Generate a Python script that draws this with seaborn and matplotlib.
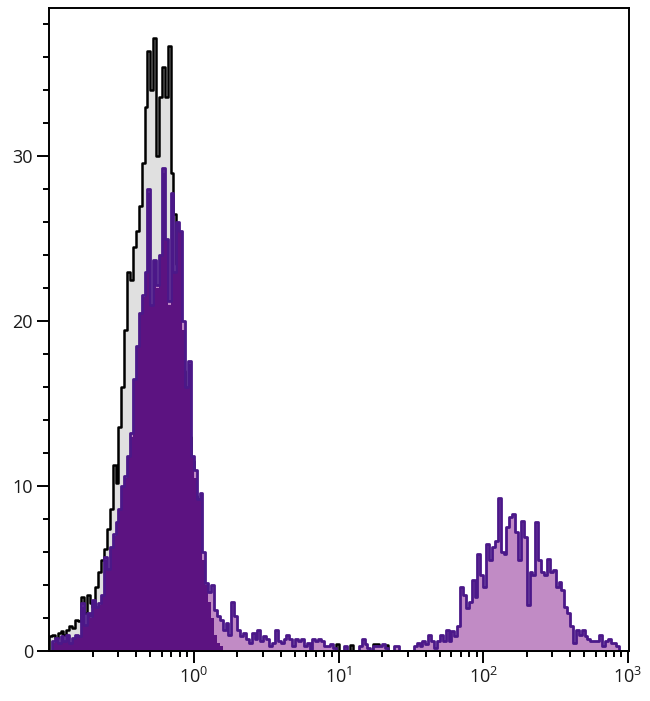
import numpy as np
import matplotlib
matplotlib.use("Agg")
import matplotlib.pyplot as plt
import seaborn as sns

# bins of the flow histogram, in decades (10^-1 .. 10^3), 50 bins per decade
bin_edges_log = np.linspace(-1, 3, 201)
bin_centers = 10 ** ((bin_edges_log[:-1] + bin_edges_log[1:]) / 2)

# isotype control (grey fill, black outline)
isotype = ([0.9, 1.0, 0.8, 1.1, 1.2, 1.0, 1.3, 1.5, 1.4, 1.9,
            1.8, 3.3, 2.3, 3.4, 2.9, 2.7, 3.9, 4.8, 5.5, 6.2,
            7.4, 8.6, 11.3, 10.2, 13.6, 16.0, 19.5, 23.0, 22.5, 24.5,
            25.5, 27.0, 29.6, 33.0, 36.4, 34.0, 37.2, 30.0, 33.6, 35.4,
            33.6, 36.7, 29.0, 26.5, 23.5, 20.0, 17.0, 14.5, 13.0, 11.5,
            9.4, 7.0, 5.0, 3.0, 2.0, 1.2, 0.8, 0.6, 0.4, 0.3,
            0.4, 0.2]
           + [0] * 37 + [0.4] + [0] * 4 + [0.35] + [0] * 7
           + [0.4, 0.4] + [0] * 2 + [0.35] + [0] * 83)

# negative population (dark purple fill)
negative = ([0.0, 0.5, 0.8, 0.4, 0.9, 0.6, 0.9, 0.5, 0.8, 1.0,
             0.9, 2.7, 1.6, 2.3, 2.0, 3.1, 2.7, 2.8, 3.4, 5.5,
             5.0, 6.3, 7.0, 7.8, 8.6, 10.0, 10.5, 11.8, 13.0, 16.5,
             18.5, 20.5, 21.5, 23.0, 27.8, 21.0, 23.7, 22.0, 24.0, 29.0,
             25.0, 21.0, 27.8, 23.0, 26.0, 25.5, 19.5, 16.0, 17.4, 11.8,
             10.5, 9.2, 9.4, 5.5, 4.0, 3.0, 2.0, 1.0, 0.5, 0.3]
            + [0] * 140)

# stained sample (light purple fill, purple outline)
stained = ([0.0, 0.6, 0.8, 0.5, 0.9, 0.6, 1.0, 0.5, 0.8, 1.0,
            0.9, 2.9, 1.6, 2.3, 2.1, 3.1, 2.7, 2.9, 3.4, 5.7,
            5.0, 6.3, 7.1, 7.8, 8.6, 10.0, 10.6, 11.8, 13.2, 16.5,
            18.5, 20.5, 21.6, 23.0, 28.0, 21.0, 23.7, 22.2, 24.0, 29.3,
            25.0, 21.2, 27.8, 23.0, 26.0, 25.5, 20.0, 16.0, 17.6, 11.8,
            11.0, 9.2, 9.6]
           + [6.0, 4.1, 3.6, 4.0, 2.5, 2.1, 1.9, 1.3, 1.7, 1.0,
              3.0, 2.1, 1.3, 0.9, 1.1, 0.7, 0.5, 1.1, 0.7, 1.3,
              0.6, 0.9, 0.7, 0.3, 0.5, 1.3, 0.6, 0.5, 0.7, 1.0,
              0.7, 0.3, 0.7, 0.6, 0.7, 0.3, 0.5, 0.1, 0.7, 0.6,
              0.7, 0.6, 0.3, 0.3, 0.4, 0.2]
           + [0, 0, 0, 0.3, 0, 0, 0, 0, 0.3, 0.7,
              0.4, 0.2, 0, 0.3, 0.3, 0.3, 0.4, 0.2, 0, 0,
              0.3, 0.3, 0, 0, 0, 0, 0]
           + [0.3, 0.5, 0.3, 0.6, 0.4, 1.0, 0.6, 0.2, 0.6, 1.0,
              0.6, 1.3, 0.6, 1.2, 0.9, 1.5, 3.9, 3.4, 2.6, 3.0,
              4.3, 3.3, 5.9, 4.6, 3.9, 6.5, 5.5, 6.3, 6.7, 9.3,
              6.0, 5.9, 7.5, 8.1, 8.3, 7.2, 5.5, 7.9, 6.9, 2.8,
              4.8, 4.6, 7.8, 5.5, 4.8, 4.6, 5.6, 4.8, 4.9, 3.9,
              4.2, 3.7, 2.7, 2.3, 1.5, 0.5, 1.3, 1.0, 1.3, 0.9,
              0.7, 0.6, 0.6, 0.6, 1.0, 0.3, 0.6, 0.7, 0.5, 0.5,
              0.3, 0, 0, 0])

x_major = [1, 10, 100, 1000]
x_labels = ['$10^{0}$', '$10^{1}$', '$10^{2}$', '$10^{3}$']
x_minor = [k * 10.0 ** d for d in range(-1, 3) for k in range(2, 10)]
y_major = [0, 10, 20, 30]
y_minor = [v for v in range(2, 39, 2) if v % 10 != 0]

sns.set_style("ticks")
plt.rcParams['font.family'] = ['Open Sans', 'DejaVu Sans']
plt.rcParams['mathtext.default'] = 'regular'

fig = plt.figure(figsize=(6.5, 7.01), dpi=100)
ax = fig.add_axes([0.0754, 0.0713, 0.8923, 0.9173])


def hist(values, **kws):
    sns.histplot(x=bin_centers, weights=np.asarray(values, dtype=float),
                 bins=list(bin_edges_log), log_scale=True, element="step",
                 ax=ax, **kws)


hist(isotype, fill=True, facecolor="#e0e0e0", edgecolor="black", linewidth=1.8, alpha=1)
hist(stained, fill=True, facecolor="#c18bc5", edgecolor="none", linewidth=0, alpha=1)
hist(negative, fill=True, facecolor="#5c1381", edgecolor="none", linewidth=0, alpha=1)
hist(stained, fill=False, color="#4b1889", linewidth=2.0)

ax.set_xlim(0.1, 1016)
ax.set_ylim(0, 39)
ax.set_xlabel('')
ax.set_ylabel('')

ax.set_xticks(x_major)
ax.set_xticklabels(x_labels)
ax.set_xticks(x_minor, minor=True)
ax.set_xticklabels([], minor=True)
ax.set_yticks(y_major)
ax.set_yticks(y_minor, minor=True)

ax.tick_params(which='major', length=8.5, width=1.4, color='black',
               labelsize=13, labelcolor='#1a1a1a', pad=3)
ax.tick_params(which='minor', length=4, width=1.4, color='black')
for s in ax.spines.values():
    s.set_linewidth(1.4)
    s.set_color('black')

fig.savefig('out.png', dpi=100)
